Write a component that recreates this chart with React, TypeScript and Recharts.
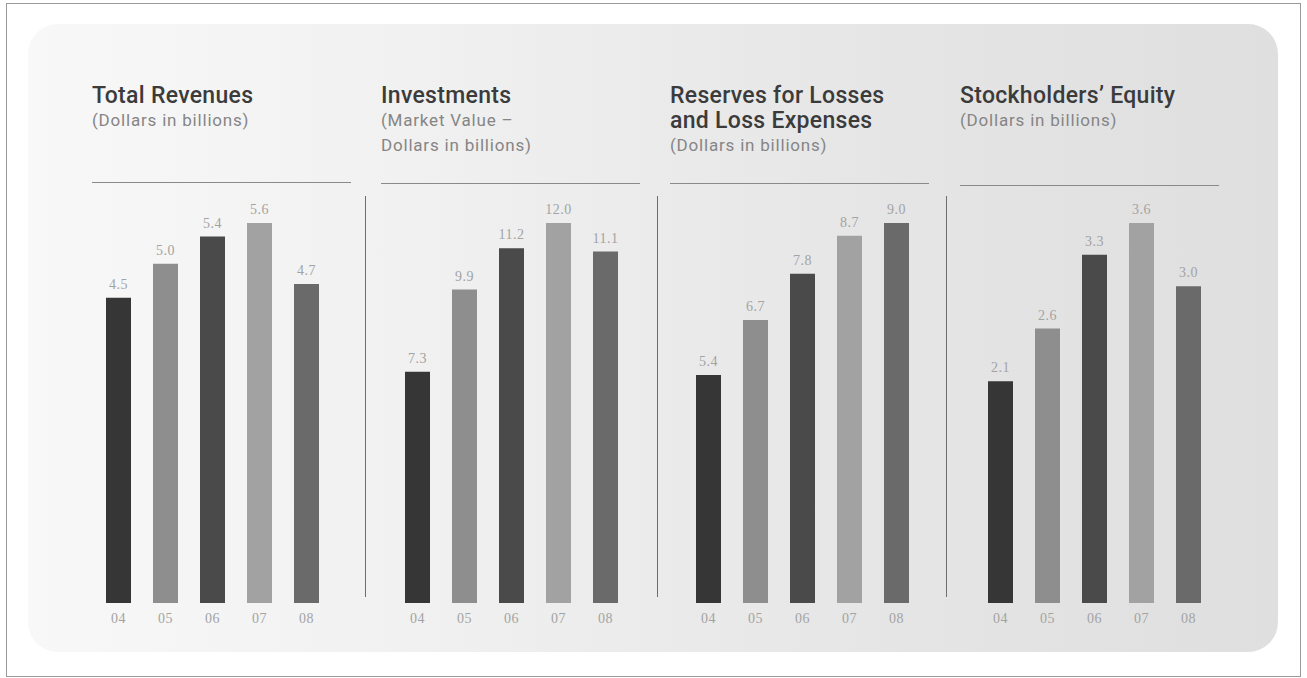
import { BarChart, Bar, XAxis, YAxis, Cell, LabelList } from 'recharts';

const years = ['04', '05', '06', '07', '08'];
const totalRevenues = [4.5, 5.0, 5.4, 5.6, 4.7];
const investments = [7.3, 9.9, 11.2, 12.0, 11.1];
const reserves = [5.4, 6.7, 7.8, 8.7, 9.0];
const equity = [2.1, 2.6, 3.3, 3.6, 3.0];

const panelTitles = [
  ['Total Revenues'],
  ['Investments'],
  ['Reserves for Losses', 'and Loss Expenses'],
  ['Stockholders\u2019 Equity'],
];
const panelSubtitles = [
  ['(Dollars in billions)'],
  ['(Market Value \u2013', 'Dollars in billions)'],
  ['(Dollars in billions)'],
  ['(Dollars in billions)'],
];
const panelValues = [totalRevenues, investments, reserves, equity];

const barColors = ['#363636', '#8e8e8e', '#4a4a4a', '#a2a2a2', '#6a6a6a'];

// layout
const textLeft = [92, 381, 670, 960];
const plotLeft = [95, 394, 685, 977];
const ruleY = [182, 183, 183, 185];
const dividers = [365, 657, 946];
const plotTop = 223;
const plotHeight = 380;
const topMargin = 30;
const axisHeight = 40;

const labelStyle = {
  fontFamily: '"Liberation Serif", serif',
  fontSize: 14,
  fill: '#a3a3a3',
  letterSpacing: 0.5,
};

function Panel({ index }: { index: number }) {
  const values = panelValues[index];
  const data = years.map((year, i) => ({ year, value: values[i] }));
  return (
    <>
      <div
        style={{
          position: 'absolute',
          left: textLeft[index],
          top: 83,
          lineHeight: '25px',
          fontFamily: 'Roboto, sans-serif',
        }}
      >
        {panelTitles[index].map((t) => (
          <div
            key={t}
            style={{ fontSize: 23, fontWeight: 500, color: '#3b3b3b', whiteSpace: 'nowrap', letterSpacing: 0.3 }}
          >
            {t}
          </div>
        ))}
        {panelSubtitles[index].map((t) => (
          <div key={t} style={{ fontSize: 17, color: '#858585', whiteSpace: 'nowrap', letterSpacing: 0.8 }}>
            {t}
          </div>
        ))}
      </div>
      <div
        style={{
          position: 'absolute',
          left: textLeft[index],
          top: ruleY[index],
          width: 259,
          height: 1,
          background: '#8a8a8a',
        }}
      />
      <div style={{ position: 'absolute', left: plotLeft[index], top: plotTop - topMargin }}>
        <BarChart
          width={235}
          height={plotHeight + topMargin + axisHeight}
          data={data}
          margin={{ top: topMargin, right: 0, left: 0, bottom: 0 }}
        >
          <XAxis
            dataKey="year"
            axisLine={false}
            tickLine={false}
            height={axisHeight}
            tick={labelStyle}
            tickMargin={4}
          />
          <YAxis hide domain={[0, 'dataMax']} />
          <Bar dataKey="value" barSize={25} isAnimationActive={false}>
            {data.map((d, i) => (
              <Cell key={d.year} fill={barColors[i]} />
            ))}
            <LabelList
              dataKey="value"
              position="top"
              offset={9}
              formatter={(v: number) => v.toFixed(1)}
              style={labelStyle}
            />
          </Bar>
        </BarChart>
      </div>
    </>
  );
}

export default function App() {
  return (
    <div style={{ position: 'absolute', left: 0, top: 0, width: 1307, height: 678, background: '#ffffff', overflow: 'hidden' }}>
      <div
        style={{
          position: 'absolute',
          left: 6,
          top: 3,
          width: 1295,
          height: 674,
          border: '1px solid #9a9a9a',
          boxSizing: 'border-box',
        }}
      />
      <div
        style={{
          position: 'absolute',
          left: 28,
          top: 24,
          width: 1250,
          height: 628,
          background:
            'linear-gradient(90deg, #f8f8f8 0%, #f1f1f1 30%, #ebebeb 50%, #e5e5e5 70%, #dfdfdf 100%)',
          borderRadius: 30,
        }}
      />
      {dividers.map((x) => (
        <div
          key={x}
          style={{ position: 'absolute', left: x, top: 196, width: 1, height: 401, background: '#6e6e6e' }}
        />
      ))}
      {[0, 1, 2, 3].map((i) => (
        <Panel key={i} index={i} />
      ))}
    </div>
  );
}
